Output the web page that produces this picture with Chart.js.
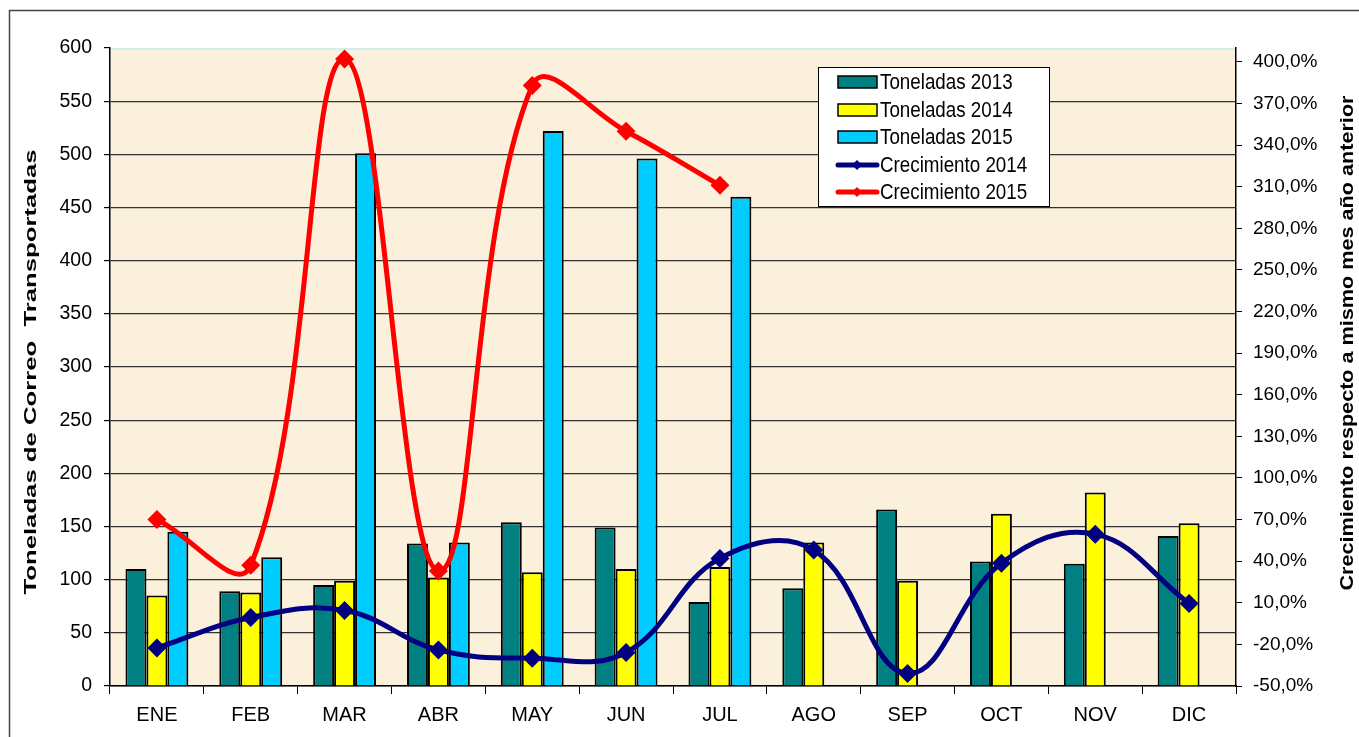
<!DOCTYPE html>
<html>
<head>
<meta charset="utf-8">
<script src="https://cdn.jsdelivr.net/npm/chart.js@4.4.1/dist/chart.umd.min.js"></script>
<style>
  html, body { margin: 0; padding: 0; background: #fff; }
  #contenedor { width: 1359px; height: 737px; }
</style>
</head>
<body>
<div id="contenedor"><canvas id="graficaCorreo" width="1359" height="737"></canvas></div>
<script>
// Datos
const meses = ['ENE', 'FEB', 'MAR', 'ABR', 'MAY', 'JUN', 'JUL', 'AGO', 'SEP', 'OCT', 'NOV', 'DIC'];
const toneladas2013 = [110, 89, 95, 134, 154, 149, 79, 92, 166, 117, 115, 141];
const toneladas2014 = [85, 88, 99, 102, 107, 110, 112, 135, 99, 162, 182, 153];
const toneladas2015 = [145, 121, 501, 135, 522, 496, 460, null, null, null, null, null];
const crecimiento2014 = [-22.6, -0.6, 4.5, -24, -30, -25.8, 42, 48, -41, 38.5, 59.5, 9.5];
const crecimiento2015 = [70, 37, 402, 33, 383, 350, 311, null, null, null, null, null];
const ticksIzq = [0, 50, 100, 150, 200, 250, 300, 350, 400, 450, 500, 550, 600];
const ticksDer = [-50, -20, 10, 40, 70, 100, 130, 160, 190, 220, 250, 280, 310, 340, 370, 400];

const fuente = "'Liberation Sans', Arial, sans-serif";

// texto con estiramiento (la grafica original tiene letras altas)
function texto(ctx, t, x, y, sx, sy) {
    ctx.save();
    ctx.translate(x, y);
    ctx.scale(sx, sy);
    ctx.fillText(t, 0, 0);
    ctx.restore();
}

// Fondo del area de trazado y marco exterior
const fondoPlugin = {
    id: 'fondo',
    beforeDraw(chart) {
        const { ctx, chartArea: a } = chart;
        ctx.save();
        ctx.fillStyle = '#fff';
        ctx.fillRect(0, 0, chart.width, chart.height);
        ctx.fillStyle = '#FBF0DC';
        ctx.fillRect(a.left, a.top, a.right - a.left, a.bottom - a.top);
        ctx.strokeStyle = '#CDEFF0';
        ctx.lineWidth = 2;
        ctx.beginPath();
        ctx.moveTo(a.left, a.top + 1);
        ctx.lineTo(a.right, a.top + 1);
        ctx.stroke();
        ctx.strokeStyle = '#444';
        ctx.lineWidth = 1.5;
        ctx.beginPath();
        ctx.moveTo(9.5, chart.height + 2);
        ctx.lineTo(9.5, 10.5);
        ctx.lineTo(chart.width + 2, 10.5);
        ctx.stroke();
        ctx.restore();
    }
};

// Titulos de ejes y leyenda dibujados a mano
const textosPlugin = {
    id: 'textos',
    afterDraw(chart) {
        const ctx = chart.ctx;
        ctx.save();
        ctx.fillStyle = '#000';
        ctx.textAlign = 'center';
        ctx.textBaseline = 'middle';

        // titulo izquierdo
        ctx.font = 'bold 16px ' + fuente;
        let t = 'Toneladas de Correo  Transportadas';
        let w = ctx.measureText(t).width;
        ctx.save();
        ctx.translate(32, 372);
        ctx.rotate(-Math.PI / 2);
        ctx.scale(445 / w, 1);
        ctx.fillText(t, 0, 0);
        ctx.restore();

        // titulo derecho
        ctx.font = 'bold 18px ' + fuente;
        t = 'Crecimiento respecto a mismo mes año anterior';
        w = ctx.measureText(t).width;
        ctx.save();
        ctx.translate(1348, 343);
        ctx.rotate(-Math.PI / 2);
        ctx.scale(495 / w, 1);
        ctx.fillText(t, 0, 0);
        ctx.restore();

        // leyenda
        const x0 = 818, y0 = 67, an = 231, al = 139;
        ctx.fillStyle = '#fff';
        ctx.fillRect(x0, y0, an, al);
        ctx.strokeStyle = '#000';
        ctx.lineWidth = 1;
        ctx.strokeRect(x0 + 0.5, y0 + 0.5, an, al);

        const filas = [82, 110, 137, 165, 192];
        chart.data.datasets.forEach((ds, i) => {
            const y = filas[i];
            if (ds.type === 'bar') {
                ctx.fillStyle = ds.backgroundColor;
                ctx.fillRect(838, y - 6, 39, 12);
                ctx.strokeStyle = '#000';
                ctx.lineWidth = 1.5;
                ctx.strokeRect(838, y - 6, 39, 12);
            } else {
                ctx.strokeStyle = ds.borderColor;
                ctx.lineWidth = 5;
                ctx.lineCap = 'round';
                ctx.beginPath();
                ctx.moveTo(838, y);
                ctx.lineTo(877, y);
                ctx.stroke();
                ctx.fillStyle = ds.borderColor;
                ctx.beginPath();
                ctx.moveTo(857, y - 5);
                ctx.lineTo(862, y);
                ctx.lineTo(857, y + 5);
                ctx.lineTo(852, y);
                ctx.closePath();
                ctx.fill();
            }
            ctx.fillStyle = '#000';
            ctx.textAlign = 'left';
            ctx.font = '18.8px ' + fuente;
            texto(ctx, ds.label, 880, y + 1, 1, 1.2);
        });
        ctx.restore();
    }
};

const ctxCorreo = document.getElementById('graficaCorreo').getContext('2d');

new Chart(ctxCorreo, {
    data: {
        labels: meses,
        datasets: [
            {
                type: 'bar', label: 'Toneladas 2013', data: toneladas2013, yAxisID: 'y',
                backgroundColor: '#008080', borderColor: '#000', borderWidth: 2, order: 1
            },
            {
                type: 'bar', label: 'Toneladas 2014', data: toneladas2014, yAxisID: 'y',
                backgroundColor: '#FFFF00', borderColor: '#000', borderWidth: 2, order: 1
            },
            {
                type: 'bar', label: 'Toneladas 2015', data: toneladas2015, yAxisID: 'y',
                backgroundColor: '#00CCFF', borderColor: '#000', borderWidth: 2, order: 1
            },
            {
                type: 'line', label: 'Crecimiento 2014', data: crecimiento2014, yAxisID: 'y1',
                borderColor: '#000080', backgroundColor: '#000080', borderWidth: 5,
                tension: 0.4, pointStyle: 'rectRot', pointRadius: 9.5, pointBorderWidth: 0, order: 0
            },
            {
                type: 'line', label: 'Crecimiento 2015', data: crecimiento2015, yAxisID: 'y1',
                borderColor: '#FF0000', backgroundColor: '#FF0000', borderWidth: 5,
                tension: 0.4, pointStyle: 'rectRot', pointRadius: 9.5, pointBorderWidth: 0, order: 0
            }
        ]
    },
    options: {
        responsive: false,
        animation: false,
        layout: { padding: { top: 48, left: 0, right: 0, bottom: 0 } },
        datasets: {
            bar: { categoryPercentage: 0.67, barPercentage: 1.0 }
        },
        plugins: {
            legend: { display: false },
            tooltip: { enabled: false }
        },
        scales: {
            x: {
                afterFit: s => { s.height = 51; },
                grid: { offset: true, drawOnChartArea: false, tickLength: 8, color: '#000' },
                border: { display: true, color: '#000', width: 1.5 },
                ticks: {
                    color: '#000', font: { family: fuente, size: 20 },
                    padding: 9, autoSkip: false, maxRotation: 0
                }
            },
            y: {
                position: 'left',
                min: 0, max: 600,
                afterFit: s => { s.width = 110; },
                afterBuildTicks: s => { s.ticks = ticksIzq.map(v => ({ value: v })); },
                grid: {
                    color: c => (c.tick && c.tick.value === 600) ? 'rgba(0,0,0,0)' : '#333',
                    lineWidth: 1.2, tickLength: 6, tickColor: '#000'
                },
                border: { display: true, color: '#000', width: 1.5 },
                ticks: { color: '#000', font: { family: fuente, size: 19.5 }, padding: 12 }
            },
            y1: {
                position: 'right',
                min: -50, max: 410,
                afterFit: s => { s.width = 123; },
                afterBuildTicks: s => { s.ticks = ticksDer.map(v => ({ value: v })); },
                grid: { drawOnChartArea: false, tickLength: 6, color: '#000' },
                border: { display: true, color: '#000', width: 1.5 },
                ticks: {
                    color: '#000', font: { family: fuente, size: 19 }, padding: 11,
                    callback: v => v.toFixed(1).replace('.', ',') + '%'
                }
            }
        }
    },
    plugins: [fondoPlugin, textosPlugin]
});
</script>
</body>
</html>
